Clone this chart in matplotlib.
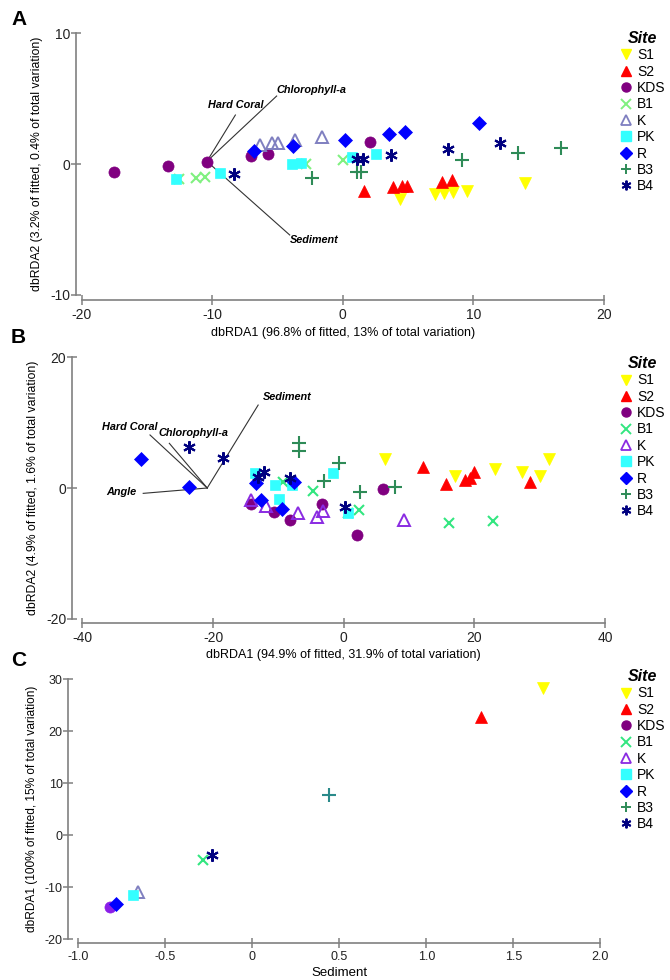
import matplotlib
matplotlib.use('Agg')
import matplotlib.pyplot as plt
from matplotlib.lines import Line2D

plt.rcParams['font.family'] = ['Liberation Sans', 'DejaVu Sans']
plt.rcParams['axes.unicode_minus'] = False

W, H = 670, 980

sites = ['S1', 'S2', 'KDS', 'B1', 'K', 'PK', 'R', 'B3', 'B4']

# panel A scores (dbRDA1, dbRDA2)
a_x = {
    'S1': [4.36, 7.04, 7.78, 8.44, 9.49, 13.98],
    'S2': [1.63, 3.85, 4.54, 4.92, 7.58, 8.34],
    'KDS': [-17.5, -13.36, -10.43, -7.05, -5.75, 2.07],
    'B1': [-12.5, -11.25, -10.53, -2.8, 0.05],
    'K': [-6.34, -5.45, -4.96, -3.64, -1.55],
    'PK': [-12.77, -9.36, -3.87, -3.16, 0.71, 2.58],
    'R': [-6.79, -3.82, 0.15, 3.55, 4.77, 10.46],
    'B3': [-2.34, 1.12, 1.38, 9.13, 13.42, 16.7],
    'B4': [-8.3, 1.12, 1.56, 3.67, 8.06, 12.04],
}
a_y = {
    'S1': [-2.68, -2.32, -2.22, -2.14, -2.04, -1.45],
    'S2': [-2.04, -1.79, -1.68, -1.66, -1.35, -1.25],
    'KDS': [-0.64, -0.13, 0.18, 0.61, 0.79, 1.71],
    'B1': [-1.15, -1.05, -0.97, 0.0, 0.31],
    'K': [1.43, 1.63, 1.63, 1.84, 2.09],
    'PK': [-1.15, -0.66, 0.0, 0.08, 0.56, 0.77],
    'R': [1.02, 1.38, 1.86, 2.27, 2.42, 3.11],
    'B3': [-1.07, -0.64, -0.64, 0.28, 0.82, 1.25],
    'B4': [-0.77, 0.36, 0.36, 0.66, 1.15, 1.63],
}

# panel B scores
b_x = {
    'S1': [6.36, 17.03, 23.18, 27.33, 30.0, 31.44],
    'S2': [12.15, 15.74, 18.5, 19.28, 20.0, 28.46],
    'KDS': [-14.18, -10.61, -8.21, -3.35, 2.1, 5.95],
    'B1': [-9.23, -4.64, 0.72, 2.36, 16.2, 22.8],
    'K': [-14.2, -11.94, -6.94, -4.13, -3.11, 9.18],
    'PK': [-13.52, -10.56, -9.9, -7.86, -1.58, 0.72],
    'R': [-30.97, -23.67, -13.37, -12.65, -9.44, -7.6],
    'B3': [-6.84, -6.84, -3.07, -0.75, 2.51, 7.79],
    'B4': [-23.67, -18.52, -13.06, -12.14, -8.21, 0.2],
}
b_y = {
    'S1': [4.39, 1.89, 2.86, 2.4, 1.89, 4.44],
    'S2': [3.27, 0.61, 1.22, 1.48, 2.5, 0.87],
    'KDS': [-2.4, -3.72, -4.95, -2.4, -7.19, -0.15],
    'B1': [0.87, -0.41, -3.88, -3.37, -5.41, -5.1],
    'K': [-1.9, -2.76, -3.78, -4.39, -3.47, -4.9],
    'PK': [2.35, 0.51, -1.63, 0.51, 2.24, -3.78],
    'R': [4.44, 0.2, 0.82, -1.84, -3.27, 0.87],
    'B3': [6.84, 5.71, 1.07, 3.78, -0.66, 0.2],
    'B4': [6.33, 4.54, 1.73, 2.5, 1.48, -2.86],
}

# panel C (Sediment vs dbRDA1)
c_x = {'S1': [1.668], 'S2': [1.315], 'KDS': [-0.815], 'B1': [-0.284], 'K': [-0.658],
       'PK': [-0.683], 'R': [-0.78], 'B3': [0.441], 'B4': [-0.229]}
c_y = {'S1': [28.4], 'S2': [22.7], 'KDS': [-13.8], 'B1': [-4.68], 'K': [-10.96],
       'PK': [-11.5], 'R': [-13.2], 'B3': [7.69], 'B4': [-3.72]}

# vectors: origin, end points, label anchors
a_origin = (-10.4, 0.2)
a_vec = ['Hard Coral', 'Chlorophyll-a', 'Sediment']
a_vec_end = [(-8.22, 3.74), (-5.06, 5.19), (-4.06, -5.42)]
a_lab_pos = [(-8.2, 4.1), (-5.1, 5.65), (-4.06, -5.8)]
a_lab_ha = ['center', 'left', 'left']
a_lab_va = ['bottom', 'center', 'center']

b_origin = (-20.9, 0.0)
b_vec = ['Angle', 'Hard Coral', 'Chlorophyll-a', 'Sediment']
b_vec_end = [(-30.7, -0.82), (-29.66, 8.12), (-26.7, 6.84), (-13.1, 12.7)]
b_lab_pos = [(-31.8, -0.66), (-32.7, 9.4), (-28.4, 8.4), (-12.4, 13.9)]
b_lab_ha = ['right', 'center', 'left', 'left']
b_lab_va = ['center', 'center', 'center', 'center']

markers = {'S1': 'v', 'S2': '^', 'KDS': 'o', 'B1': 'x', 'K': '^', 'PK': 's',
           'R': 'D', 'B3': '+', 'B4': (6, 2, 0)}
sizes = {'S1': 9, 'S2': 9, 'KDS': 8, 'B1': 7, 'K': 9, 'PK': 7.5,
         'R': 7, 'B3': 10, 'B4': 9}
cols_a = {'S1': '#ffff00', 'S2': '#ff0000', 'KDS': '#800080', 'B1': '#80f080',
          'K': '#7f7fc0', 'PK': '#33ffff', 'R': '#0000ff', 'B3': '#2e8b57', 'B4': '#000080'}
cols_b = dict(cols_a, B1='#33e680', K='#8a2be2')
cols_c_pts = dict(cols_b, KDS='#8b1ee8', K='#8080c0', B3='#2a8a8a')

GREY = '#808080'


def fig_rect(l, t, r, b):
    return [l / W, 1 - b / H, (r - l) / W, (b - t) / H]


def draw_site(ax, xs, ys, s, col):
    m = markers[s]
    if s == 'K':
        ax.plot(xs, ys, ls='none', marker=m, ms=sizes[s], mfc='none', mec=col, mew=1.4)
    elif s in ('B1', 'B3', 'B4'):
        ax.plot(xs, ys, ls='none', marker=m, ms=sizes[s], color=col, mew=1.5)
    else:
        ax.plot(xs, ys, ls='none', marker=m, ms=sizes[s], mfc=col, mec=col, mew=0.5)


def style_axis(ax, xt, yt, xlim, ylim, labsize):
    ax.set_xlim(*xlim)
    ax.set_ylim(*ylim)
    ax.set_xticks(xt)
    ax.set_yticks(yt)
    for sp in ['top', 'right']:
        ax.spines[sp].set_visible(False)
    ax.spines['left'].set_bounds(yt[0], yt[-1])
    ax.spines['bottom'].set_bounds(xt[0], xt[-1])
    for sp in ['left', 'bottom']:
        ax.spines[sp].set_color(GREY)
        ax.spines[sp].set_linewidth(1.2)
    ax.tick_params(direction='inout', length=7, width=1.1, color=GREY,
                   labelsize=labsize, labelcolor='#222222')
    ax.tick_params(axis='y', pad=0.5)
    ax.tick_params(axis='x', pad=2)


def add_legend(ax, cols, x, y):
    hs = []
    for s in sites:
        if s == 'K':
            h = Line2D([], [], ls='none', marker=markers[s], ms=7, mfc='none', mec=cols[s], mew=1.3)
        elif s in ('B1', 'B3', 'B4'):
            h = Line2D([], [], ls='none', marker=markers[s], ms=7, color=cols[s], mew=1.4)
        else:
            h = Line2D([], [], ls='none', marker=markers[s], ms=6.5, color=cols[s])
        hs.append(h)
    leg = ax.legend(hs, sites, loc='upper left', bbox_to_anchor=(x / W, 1 - y / H),
                    bbox_transform=fig.transFigure, frameon=False, fontsize=10,
                    title='Site', handlelength=0.8, handletextpad=0.45,
                    labelspacing=0.17, borderpad=0, borderaxespad=0,
                    title_fontproperties={'weight': 'bold', 'style': 'italic', 'size': 11.5})
    leg._legend_box.align = 'center'


fig = plt.figure(figsize=(W / 100, H / 100), dpi=100)
fig.patch.set_facecolor('white')

# ---- A
axA = fig.add_axes(fig_rect(75.5, 27.8, 610.5, 300.2))
for s in sites:
    draw_site(axA, a_x[s], a_y[s], s, cols_a[s])
for name, end, lp, ha, va in zip(a_vec, a_vec_end, a_lab_pos, a_lab_ha, a_lab_va):
    axA.plot([a_origin[0], end[0]], [a_origin[1], end[1]], color='#333333', lw=0.8, zorder=1)
    axA.text(lp[0], lp[1], name, ha=ha, va=va, fontsize=7.8, fontweight='bold', style='italic')
style_axis(axA, [-20, -10, 0, 10, 20], [-10, 0, 10], (-20.46, 20.5), (-10.4, 10.4), 10)
axA.set_xlabel('dbRDA1 (96.8% of fitted, 13% of total variation)', fontsize=9, labelpad=4)
axA.set_ylabel('dbRDA2 (3.2% of fitted, 0.4% of total variation)', fontsize=8.8, labelpad=5)
add_legend(axA, cols_a, 620, 31)

# ---- B
axB = fig.add_axes(fig_rect(71.7, 353, 615.7, 623))
for s in sites:
    draw_site(axB, b_x[s], b_y[s], s, cols_b[s])
for name, end, lp, ha, va in zip(b_vec, b_vec_end, b_lab_pos, b_lab_ha, b_lab_va):
    axB.plot([b_origin[0], end[0]], [b_origin[1], end[1]], color='#333333', lw=0.8, zorder=1)
    axB.text(lp[0], lp[1], name, ha=ha, va=va, fontsize=7.8, fontweight='bold', style='italic')
style_axis(axB, [-40, -20, 0, 20, 40], [-20, 0, 20], (-41.65, 41.65), (-20.67, 20.67), 10)
axB.set_xlabel('dbRDA1 (94.9% of fitted, 31.9% of total variation)', fontsize=9, labelpad=3)
axB.set_ylabel('dbRDA2 (4.9% of fitted, 1.6% of total variation)', fontsize=8.8, labelpad=5)
add_legend(axB, cols_b, 620, 356)

# ---- C
axC = fig.add_axes(fig_rect(68.3, 675.3, 610.2, 943.3))
for s in sites:
    draw_site(axC, c_x[s], c_y[s], s, cols_c_pts[s])
style_axis(axC, [-1.0, -0.5, 0, 0.5, 1.0, 1.5, 2.0], [-20, -10, 0, 10, 20, 30],
           (-1.056, 2.056), (-20.77, 30.77), 9)
axC.set_xticklabels(['-1.0', '-0.5', '0', '0.5', '1.0', '1.5', '2.0'])
axC.set_xlabel('Sediment', fontsize=9.5, labelpad=3)
axC.set_ylabel('dbRDA1 (100% of fitted, 15% of total variation)', fontsize=8.6, labelpad=5)
add_legend(axC, cols_b, 620, 669)

for letter, yp in [('A', 10), ('B', 328), ('C', 651)]:
    fig.text(11 / W, 1 - yp / H, letter, fontsize=15, fontweight='bold', va='top', ha='left')

fig.savefig('out.png', dpi=100)
